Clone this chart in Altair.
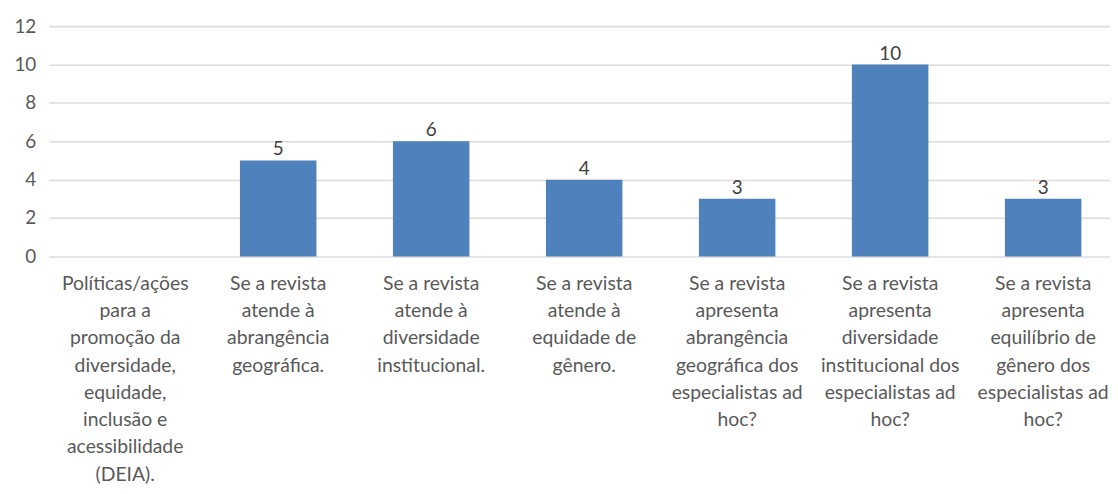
import altair as alt
import pandas as pd

categories = [
    "Políticas/ações\npara a\npromoção da\ndiversidade,\nequidade,\ninclusão e\nacessibilidade\n(DEIA).",
    "Se a revista\natende à\nabrangência\ngeográfica.",
    "Se a revista\natende à\ndiversidade\ninstitucional.",
    "Se a revista\natende à\nequidade de\ngênero.",
    "Se a revista\napresenta\nabrangência\ngeográfica dos\nespecialistas ad\nhoc?",
    "Se a revista\napresenta\ndiversidade\ninstitucional dos\nespecialistas ad\nhoc?",
    "Se a revista\napresenta\nequilíbrio de\ngênero dos\nespecialistas ad\nhoc?",
]
values = [None, 5, 6, 4, 3, 10, 3]
y_ticks = [0, 2, 4, 6, 8, 10, 12]

df = pd.DataFrame({"categoria": categories, "valor": values})

FONT = "Lato"
x_enc = alt.X(
    "categoria:N",
    sort=categories,
    scale=alt.Scale(domain=categories, paddingInner=0.5, paddingOuter=0.2185, align=0.572),
    axis=alt.Axis(
        title=None, labelAngle=0, labelExpr="split(datum.value, '\\n')",
        labelFont=FONT, labelFontSize=19.5, labelColor="#595959",
        labelLineHeight=27.5, labelPadding=18, labelBaseline="top",
        ticks=False, domain=False, labelLimit=0, grid=False,
    ),
)
y_enc = alt.Y(
    "valor:Q",
    scale=alt.Scale(domain=[0, 12], nice=False),
    axis=alt.Axis(
        title=None, values=y_ticks, ticks=False, domain=False,
        labelFont=FONT, labelFontSize=19, labelColor="#595959", labelPadding=13,
        gridColor="#dcdcdc", gridWidth=1.6,
    ),
)

base = alt.Chart(df).encode(x=x_enc, y=y_enc)
bars = base.mark_bar(color="#4f81bd")
labels = base.mark_text(dy=-5, baseline="alphabetic", font=FONT, fontSize=19, color="#404040").encode(
    text=alt.Text("valor:Q")
)

chart = (bars + labels).properties(
    width=1069, height=232,
    autosize=alt.AutoSizeParams(type="none"),
    padding={"left": 41, "top": 16.5, "right": 0, "bottom": 228},
).configure_view(stroke=None)

chart.save("out.html", embed_options={"renderer": "svg", "actions": False})
